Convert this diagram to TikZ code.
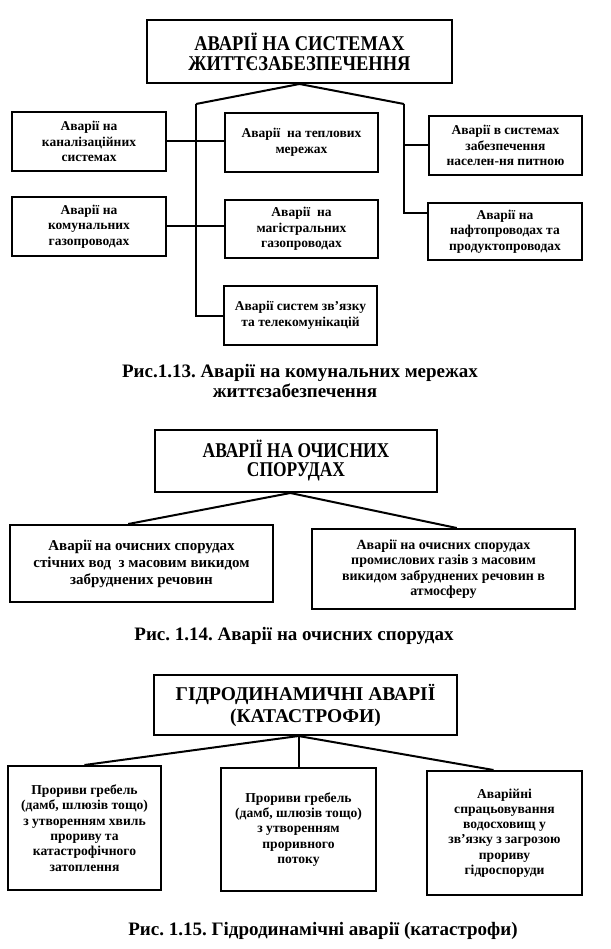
\documentclass[tikz,border=0pt]{standalone}
\usepackage{fontspec}
\setmainfont{Liberation Serif}
\newfontfamily\condA[FakeStretch=0.88]{Liberation Serif}
\newfontfamily\condB[FakeStretch=0.83]{Liberation Serif}
\usetikzlibrary{calc}
\begin{document}
\frenchspacing
\begin{tikzpicture}[x=1pt,y=-1pt,
  box/.style={draw, line width=2pt, align=center, inner sep=1pt},
  small/.style={font=\bfseries\fontsize{13.5}{15.5}\selectfont},
  mid/.style={font=\bfseries\fontsize{13.6}{15.3}\selectfont},
  capt/.style={font=\bfseries\fontsize{19}{21}\selectfont, anchor=base},
  conn/.style={line width=2pt}]
\useasboundingbox (0,0) rectangle (610,949);
\fill[white] (0,0) rectangle (610,949);
% ---------- Section 1 ----------
\node[box,font=\condA\bfseries\fontsize{21}{20}\selectfont,minimum width=305,minimum height=63] (t1) at (299.5,51.5) {АВАРІЇ НА СИСТЕМАХ\\ЖИТТЄЗАБЕЗПЕЧЕННЯ};
\node[box,small,minimum width=154,minimum height=59] (a1) at (89,141.5) {Аварії на\\каналізаційних\\системах};
\node[box,small,minimum width=153,minimum height=59] (a2) at (301.5,142.5) {Аварії~ на теплових\\мережах};
\node[box,small,minimum width=153,minimum height=59] (a3) at (505.5,145.5) {Аварії в системах\\забезпечення\\населен-ня питною};
\node[box,small,minimum width=154,minimum height=59] (b1) at (89,226.5) {Аварії на\\комунальних\\газопроводах};
\node[box,small,minimum width=153,minimum height=58] (b2) at (301.5,229) {Аварії~ на\\магістральних\\газопроводах};
\node[box,small,minimum width=154,minimum height=57] (b3) at (505,231.5) {Аварії на\\нафтопроводах та\\продуктопроводах};
\node[box,small,minimum width=153,minimum height=59] (c2) at (300.5,315.5) {Аварії систем зв’язку\\та телекомунікацій};
\coordinate (jL) at (196,104);
\coordinate (jR) at (404,104);
\coordinate (rb) at (404,213);
\draw[conn] (jL) -- (t1.south) -- (jR);
\draw[conn] (jL) -- (jL |- c2.west) -- (c2.west);
\draw[conn] (jR) -- (rb) -- (rb -| b3.west);
\draw[conn] (a1.east) -- (a1.east -| a2.west);
\draw[conn] (b1.east) -- (b1.east -| b2.west);
\draw[conn] (jR |- a3.west) -- (a3.west);
\node[capt] (cap1a) at (300,377) {Рис.1.13. Аварії на комунальних мережах};
\node[capt] (cap1b) at (295,397) {життєзабезпечення};
% ---------- Section 2 ----------
\node[box,font=\condB\bfseries\fontsize{21}{19}\selectfont,minimum width=282,minimum height=62] (t2) at (296,461) {АВАРІЇ НА ОЧИСНИХ\\СПОРУДАХ};
\node[box,font=\bfseries\fontsize{15}{17}\selectfont,minimum width=263,minimum height=77] (l2) at (141.5,563.5) {Аварії на очисних спорудах\\стічних вод~ з масовим викидом\\забруднених речовин};
\node[box,font=\bfseries\fontsize{14}{15.3}\selectfont,minimum width=263,minimum height=80] (r2) at (443.5,569) {Аварії на очисних спорудах\\промислових газів з масовим\\викидом забруднених речовин в\\атмосферу};
\draw[conn] ($(l2.north west)!0.45!(l2.north east)$) -- ($(t2.south west)!0.48!(t2.south east)$) -- ($(r2.north west)!0.55!(r2.north east)$);
\node[capt] (cap2) at (294,640) {Рис. 1.14. Аварії на очисних спорудах};
% ---------- Section 3 ----------
\node[box,font=\bfseries\fontsize{19.5}{22}\selectfont,minimum width=303,minimum height=60] (t3) at (305.5,705) {ГІДРОДИНАМИЧНІ АВАРІЇ\\(КАТАСТРОФИ)};
\node[box,mid,minimum width=153,minimum height=124] (l3) at (84.5,828) {Прориви гребель\\(дамб, шлюзів тощо)\\з утворенням хвиль\\прориву та\\катастрофічного\\затоплення};
\node[box,mid,minimum width=155,minimum height=123] (m3) at (298.5,829.5) {Прориви гребель\\(дамб, шлюзів тощо)\\з утворенням\\проривного\\потоку};
\node[box,mid,minimum width=155,minimum height=124] (r3) at (504.5,833) {Аварійні\\спрацьовування\\водосховищ у\\зв’язку з загрозою\\прориву\\гідроспоруди};
\coordinate (ap3) at (m3.north |- t3.south);
\draw[conn] (l3.north) -- (ap3) -- ($(r3.north west)!0.43!(r3.north east)$);
\draw[conn] (ap3) -- (m3.north);
\node[capt] (cap3) at (323,935) {Рис. 1.15. Гідродинамічні аварії (катастрофи)};
\end{tikzpicture}
\end{document}
